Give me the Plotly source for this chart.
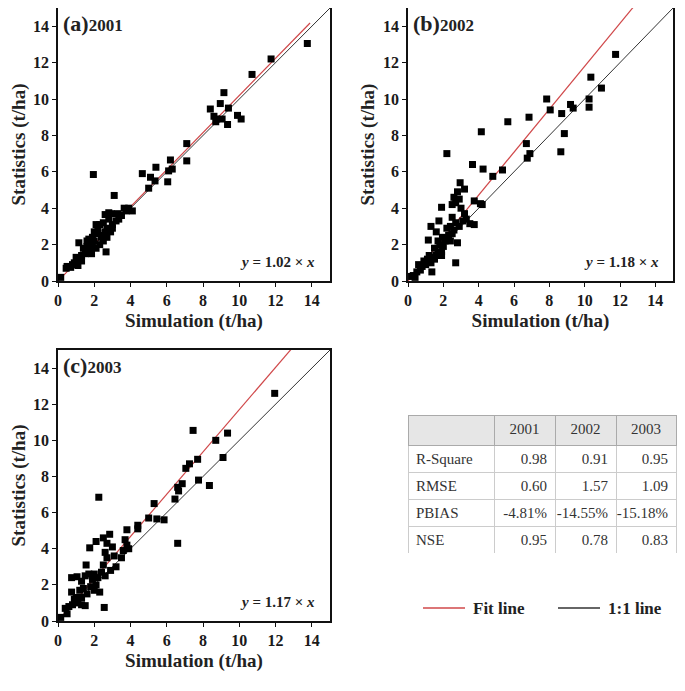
import plotly.graph_objects as go

years = ["2001", "2002", "2003"]
panel_tags = ["(a)", "(b)", "(c)"]
slopes = [1.02, 1.18, 1.17]
fit_x_end = [13.9, 15, 15]

sim_2001 = [13.75, 11.75, 10.7, 9.15, 8.95, 8.4, 8.6, 8.75, 9.05, 8.7, 9.35, 9.4, 9.9, 10.1, 7.1, 7.1, 6.2, 6.3, 6.05, 6.1,
            5.4, 5.1, 4.65, 5.0, 5.35, 4.1, 3.9, 3.65, 3.75, 3.5, 3.35, 3.1, 2.8, 2.95, 2.6, 2.65, 1.95, 1.15, 3.2, 3.0,
            2.9, 2.7, 2.5, 2.4, 2.3, 2.2, 2.1, 2.0, 1.9, 1.8, 1.75, 1.7, 1.6, 1.5, 1.4, 1.3, 1.2, 1.1, 1.0, 0.9,
            0.8, 0.7, 0.5, 0.45, 0.15, 2.5, 2.6, 2.3, 2.1, 1.9, 1.85, 2.0, 2.2, 2.4, 2.8, 3.3, 1.6, 1.3, 2.7, 3.0]
stat_2001 = [13.05, 12.2, 11.35, 10.35, 9.75, 9.45, 9.05, 8.9, 8.9, 8.75, 8.6, 9.5, 9.1, 8.9, 7.55, 6.6, 6.65, 6.15, 5.45, 6.05,
             6.25, 5.7, 5.9, 5.1, 5.5, 3.85, 4.0, 4.0, 3.85, 3.6, 3.4, 4.7, 3.75, 3.7, 3.65, 1.6, 5.85, 2.1, 3.3, 3.1,
             2.7, 2.9, 3.2, 2.5, 3.1, 2.6, 3.1, 2.2, 2.4, 2.1, 1.6, 2.3, 1.9, 1.5, 1.8, 1.4, 1.2, 0.85, 1.3, 1.0,
             0.9, 0.75, 0.8, 0.7, 0.2, 2.2, 2.7, 2.0, 1.8, 1.9, 1.5, 2.7, 2.9, 2.4, 3.4, 3.7, 2.2, 1.1, 2.4, 2.9]

sim_2002 = [11.75, 10.35, 10.95, 10.25, 10.25, 9.2, 9.35, 7.85, 8.05, 8.7, 8.85, 8.65, 6.85, 6.7, 6.9, 6.75, 5.65, 4.15, 2.2, 3.65,
            4.25, 4.8, 5.35, 4.1, 3.75, 4.2, 3.75, 3.5, 2.95, 3.2, 2.8, 2.6, 2.5, 2.7, 3.0, 2.9, 3.2, 3.3, 2.7, 2.5,
            2.4, 2.8, 2.7, 1.9, 1.75, 1.3, 1.6, 1.15, 1.35, 0.4, 2.3, 2.1, 2.0, 1.9, 1.8, 1.7, 1.6, 1.5, 1.4, 1.3,
            1.2, 1.1, 1.0, 0.9, 0.8, 0.7, 0.6, 0.5, 0.3, 0.2, 2.5, 2.6, 2.2, 1.95, 1.7, 2.4, 2.9, 3.1, 1.5, 1.9]
stat_2002 = [12.45, 11.2, 10.6, 10.0, 9.55, 9.7, 9.5, 10.0, 9.4, 9.2, 8.1, 7.1, 9.0, 7.55, 7.0, 6.75, 8.75, 8.2, 7.0, 6.4,
             6.15, 5.75, 6.1, 4.25, 4.4, 4.2, 3.1, 3.15, 5.4, 5.05, 4.9, 4.6, 4.2, 4.3, 4.0, 4.5, 3.7, 3.4, 3.2, 3.5,
             3.0, 2.1, 1.0, 4.05, 3.3, 3.0, 2.7, 2.25, 0.5, 0.2, 2.5, 2.2, 1.9, 1.6, 2.0, 1.6, 1.4, 1.8, 1.3, 1.0,
             1.4, 1.2, 0.9, 1.1, 0.8, 0.6, 0.9, 0.5, 0.3, 0.25, 2.6, 2.8, 2.9, 2.4, 2.2, 2.2, 3.0, 3.3, 1.2, 1.4]

sim_2003 = [11.95, 7.45, 9.35, 8.7, 9.1, 7.7, 7.25, 7.05, 6.85, 7.75, 8.35, 6.6, 6.65, 6.45, 6.6, 5.3, 5.0, 5.45, 5.85, 4.4,
            4.4, 3.8, 3.7, 3.8, 3.6, 3.5, 3.9, 2.25, 2.85, 2.5, 2.1, 1.75, 2.7, 3.0, 3.1, 2.6, 2.9, 2.55, 1.55, 0.75,
            1.05, 1.3, 0.75, 1.0, 1.3, 1.5, 0.5, 0.4, 0.15, 2.3, 2.0, 1.8, 1.9, 2.0, 2.2, 2.4, 2.5, 2.7, 1.6, 1.4,
            1.2, 1.1, 0.9, 0.8, 0.6, 1.5, 1.7, 2.1, 2.6, 3.2, 1.3]
stat_2003 = [12.6, 10.55, 10.4, 10.0, 9.05, 8.95, 8.7, 8.45, 7.6, 7.8, 7.5, 7.4, 7.2, 6.75, 4.3, 6.5, 5.7, 5.65, 5.6, 5.3,
             5.1, 5.05, 4.5, 4.2, 3.9, 3.5, 4.0, 6.85, 4.8, 4.6, 4.4, 4.05, 4.3, 4.1, 3.6, 3.8, 2.8, 0.75, 3.1, 2.4,
             2.45, 2.2, 1.6, 1.3, 0.9, 0.85, 0.4, 0.7, 0.2, 1.6, 1.7, 1.9, 2.3, 2.6, 2.4, 2.7, 3.1, 3.5, 1.5, 1.8,
             1.7, 1.0, 1.2, 0.9, 0.8, 2.5, 2.6, 2.0, 2.5, 3.0, 1.3]

sims = [sim_2001, sim_2002, sim_2003]
stats = [stat_2001, stat_2002, stat_2003]

table_rows = ["R-Square", "RMSE", "PBIAS", "NSE"]
table_2001 = ["0.98", "0.60", "-4.81%", "0.95"]
table_2002 = ["0.91", "1.57", "-14.55%", "0.78"]
table_2003 = ["0.95", "1.09", "-15.18%", "0.83"]

legend_names = ["Fit line", "1:1 line"]
legend_colors = ["#d0484a", "#333333"]

W, H = 685, 691
SERIF = "Liberation Serif"
OFF = 8  # page body margin offset

def px_x(p):
    return (p - OFF) / W

def px_y(p):
    return 1 - (p - OFF) / H

domains = [
    ([px_x(58), px_x(330)], [px_y(281), px_y(8)]),
    ([px_x(408), px_x(673)], [px_y(281), px_y(8)]),
    ([px_x(58), px_x(330)], [px_y(621), px_y(350)]),
]

fig = go.Figure()
layout = {}
annotations = []
shapes = []
for i in range(3):
    sfx = "" if i == 0 else str(i + 1)
    xa, ya = "x" + sfx, "y" + sfx
    fig.add_trace(go.Scatter(x=[0, 15], y=[0, 15], mode="lines", xaxis=xa, yaxis=ya,
                             line=dict(color=legend_colors[1], width=1), showlegend=False))
    fig.add_trace(go.Scatter(x=[0, fit_x_end[i]], y=[0, slopes[i] * fit_x_end[i]], mode="lines",
                             xaxis=xa, yaxis=ya, line=dict(color=legend_colors[0], width=1.2),
                             showlegend=False))
    fig.add_trace(go.Scatter(x=sims[i], y=stats[i], mode="markers", xaxis=xa, yaxis=ya,
                             marker=dict(symbol="square", size=7, color="black"), showlegend=False))
    dx, dy = domains[i]
    axis_common = dict(range=[0, 15], dtick=2, tick0=0, ticks="outside", ticklen=4, tickwidth=1.3,
                       tickcolor="#111111",
                       showline=True, mirror=True, linecolor="#111111", linewidth=1.6,
                       showgrid=False, zeroline=False, automargin=False,
                       tickfont=dict(family=SERIF, size=16, color="#1a1a1a", weight="bold"))
    layout["xaxis" + sfx] = dict(axis_common, domain=dx, anchor=ya,
                                 title=dict(text="Simulation (t/ha)", standoff=6,
                                            font=dict(family=SERIF, size=19, color="#222222", weight="bold")))
    layout["yaxis" + sfx] = dict(axis_common, domain=dy, anchor=xa,
                                 title=dict(text="Statistics (t/ha)", standoff=3,
                                            font=dict(family=SERIF, size=19, color="#222222", weight="bold")))
    annotations.append(dict(xref=xa, yref=ya, x=0.15, y=14.95, xanchor="left", yanchor="top",
                            showarrow=False,
                            text="<b><span style='font-size:22px'>" + panel_tags[i] + "</span>" + years[i] + "</b>",
                            font=dict(family=SERIF, size=17, color="#222222")))
    annotations.append(dict(xref=xa, yref=ya, x=14.3, y=1.05, xanchor="right", yanchor="middle",
                            showarrow=False,
                            text="<b><i>y</i> = %.2f × <i>x</i></b>" % slopes[i],
                            font=dict(family=SERIF, size=15, color="#222222")))

fig.add_trace(go.Table(
    domain=dict(x=[px_x(408), px_x(676)], y=[px_y(553), px_y(415)]),
    columnwidth=[86, 61, 61, 60],
    header=dict(values=["", "2001", "2002", "2003"], fill_color="#e6e6e6",
                line_color="#aaaaaa", align="center", height=30,
                font=dict(family=SERIF, size=15, color="#333333")),
    cells=dict(values=[table_rows, table_2001, table_2002, table_2003], fill_color="white",
               line_color="#cccccc", align=["left", "right", "right", "right"], height=27,
               font=dict(family=SERIF, size=15, color="#333333")),
))

# legend (drawn in paper space)
leg_line_x = [(423, 465), (558, 600)]
leg_y = 608
for (x0, x1), name, col in zip(leg_line_x, legend_names, legend_colors):
    shapes.append(dict(type="line", xref="paper", yref="paper", x0=px_x(x0), x1=px_x(x1),
                       y0=px_y(leg_y), y1=px_y(leg_y), line=dict(color=col, width=1.3)))
    annotations.append(dict(xref="paper", yref="paper", x=px_x(x1 + 6), y=px_y(leg_y), xanchor="left",
                            yanchor="middle", showarrow=False, text="<b>" + name + "</b>",
                            font=dict(family=SERIF, size=17, color="#222222")))

fig.update_layout(
    width=W, height=H, margin=dict(l=0, r=0, t=0, b=0),
    paper_bgcolor="white", plot_bgcolor="white",
    showlegend=False,
    annotations=annotations, shapes=shapes,
    **layout,
)

fig.write_html("out.html")
